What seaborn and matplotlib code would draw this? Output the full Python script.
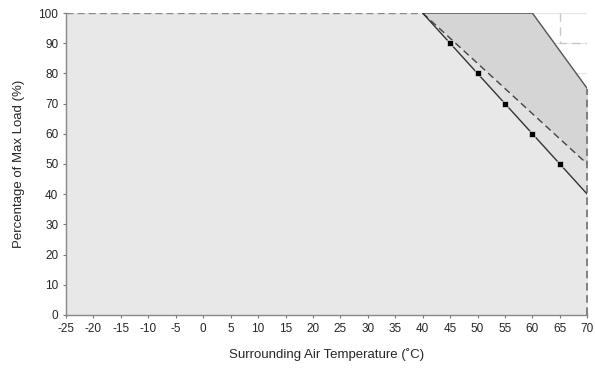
import matplotlib
matplotlib.use("Agg")
import matplotlib.pyplot as plt
import numpy as np
import pandas as pd
import seaborn as sns

# ------------------------------------------------------------------------------
# Derating curve data
# ------------------------------------------------------------------------------
rated_temp = [-25, 40, 45, 50, 55, 60, 65, 70]
rated_load = [100, 100, 90, 80, 70, 60, 50, 40]

marker_temp = [45, 50, 55, 60, 65]
marker_load = [90, 80, 70, 60, 50]

dashed_temp = [40, 70]
dashed_load = [100, 50]

upper_temp = [40, 60, 70]
upper_load = [100, 100, 75]

box_temp = [65, 65, 70]
box_load = [100, 90, 90]

x_ticks = list(range(-25, 75, 5))
y_ticks = list(range(0, 110, 10))

sns.set_theme(style="white")
plt.rcParams['font.family'] = ['Liberation Sans', 'DejaVu Sans']

fig = plt.figure(figsize=(5.95, 3.74), dpi=100)
ax = fig.add_axes([0.111, 0.158, 0.876, 0.807])

# light grid, only visible in the white corner
for y in y_ticks[1:]:
    ax.axhline(y, color="#e6e6e6", lw=0.8, zorder=0)

# fills
ax.fill_between(rated_temp + [70], rated_load + [0], 0, color="#e8e8e8", lw=0, zorder=1)
ax.fill_between(upper_temp, upper_load,
                np.interp(upper_temp, dashed_temp, dashed_load),
                color="#d5d5d5", lw=0, zorder=1)
ax.fill_between(dashed_temp, dashed_load,
                np.interp(dashed_temp, rated_temp, rated_load),
                color="#e2e2e2", lw=0, zorder=1)

# outlines
ax.plot(upper_temp, upper_load, color="#555555", lw=1.0, zorder=3)
ax.plot(dashed_temp, dashed_load, color="#444444", lw=1.0, ls=(0, (5, 3)), zorder=3)
ax.plot([-25, 40], [100, 100], color="#888888", lw=1.0, ls=(0, (5, 3)), zorder=3)
ax.plot([70, 70], [0, 75], color="#666666", lw=1.1, ls=(0, (5, 3)), zorder=3,
        clip_on=False)
ax.plot(box_temp, box_load, color="#c8c8c8", lw=1.0, ls=(0, (6, 4)), zorder=2)

df = pd.DataFrame({"temp": rated_temp[1:], "load": rated_load[1:]})
sns.lineplot(data=df, x="temp", y="load", color="#333333", lw=1.0, ax=ax, zorder=4)
sns.scatterplot(x=marker_temp, y=marker_load, marker="s", s=22, color="black",
                edgecolor="white", linewidth=0.4, ax=ax, zorder=5)

ax.set_xlim(-25, 70)
ax.set_ylim(0, 100)
ax.set_xticks(x_ticks)
ax.set_yticks(y_ticks)
ax.set_xticklabels([str(t) for t in x_ticks], fontsize=8.5)
ax.set_yticklabels([str(t) for t in y_ticks], fontsize=8.5)
ax.tick_params(axis="both", direction="inout", length=5, width=0.8,
               color="#777777", pad=3, bottom=True, left=True)

for side in ["top", "right"]:
    ax.spines[side].set_visible(False)
for side in ["left", "bottom"]:
    ax.spines[side].set_color("#888888")
    ax.spines[side].set_linewidth(1.0)

ax.set_xlabel("Surrounding Air Temperature (˚C)", fontsize=9.5, labelpad=10)
ax.set_ylabel("Percentage of Max Load (%)", fontsize=9.5, labelpad=10)

fig.savefig("out.png", dpi=100)
